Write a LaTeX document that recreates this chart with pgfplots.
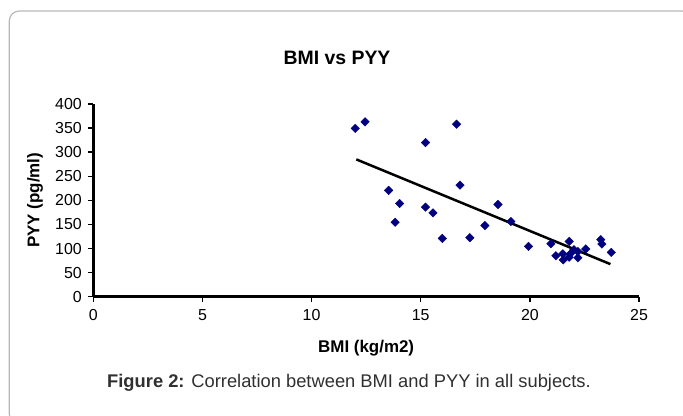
\documentclass[border=0pt]{standalone}
\usepackage{pgfplots}
\pgfplotsset{compat=1.18}
\usepackage{fontspec}
\setmainfont{Liberation Sans}
\definecolor{navy}{HTML}{000080}
\definecolor{framegray}{HTML}{B8B8B8}
\definecolor{captext}{HTML}{303030}
\begin{document}
\begin{tikzpicture}
\path[use as bounding box] (0,0) rectangle (683bp,416bp);
\draw[framegray, line width=1.2bp, rounded corners=10bp] (9.3bp,-8bp) rectangle (692bp,405bp);
\begin{axis}[
    at={(93.3bp,119.3bp)}, anchor=south west,
    scale only axis, width=545.7bp, height=192.7bp,
    xmin=0, xmax=25, ymin=0, ymax=400,
    axis lines*=left,
    axis line style={line width=2.5bp, black},
    xtick={0,5,...,25}, ytick={0,50,...,400},
    tick align=outside, major tick length=5bp,
    tick style={line width=1.5bp, black},
    /pgf/number format/assume math mode=true,
    ticklabel style={font=\fontsize{16}{19}\selectfont},
    xticklabel style={yshift=-4bp},
    yticklabel style={xshift=-3bp},
    xlabel={\textbf{BMI (kg/m2)}},
    ylabel={\textbf{PYY (pg/ml)}},
    xlabel style={at={(axis description cs:0.5,-0.2647)}, anchor=center, font=\fontsize{17}{20}\selectfont},
    ylabel style={at={(axis description cs:-0.1068,0.5)}, anchor=center, font=\fontsize{17}{20}\selectfont},
    clip=false,
]
\addplot[only marks, mark=square*, mark size=3bp, mark options={rotate=45, fill=navy, draw=navy}] coordinates {
    (12.00,349.5) (12.45,363) (15.22,320) (16.64,358) (13.53,220.7)
    (14.03,193.5) (13.83,154.5) (15.22,185.8) (15.56,174) (15.99,121)
    (16.80,231.7) (17.25,122.5) (17.94,147.6) (18.54,191.4) (19.13,156)
    (19.94,104.4) (20.96,110) (21.19,85) (21.51,89) (21.53,76.6)
    (21.80,114.8) (21.80,82) (21.85,89) (22.02,97.5) (22.20,80.8)
    (22.20,94) (22.56,99) (23.25,118.4) (23.30,109.4) (23.73,92)
};
\addplot[black, line width=2.5bp, no marks] coordinates {(12.05,285) (23.69,67.6)};
\end{axis}
\node[font=\fontsize{19.5}{23}\selectfont\bfseries] at (337bp,358bp) {BMI vs PYY};
\node[font=\fontsize{18.4}{22}\selectfont, text=captext] at (349bp,33bp) {\textbf{Figure 2:} Correlation between BMI and PYY in all subjects.};
\end{tikzpicture}
\end{document}
